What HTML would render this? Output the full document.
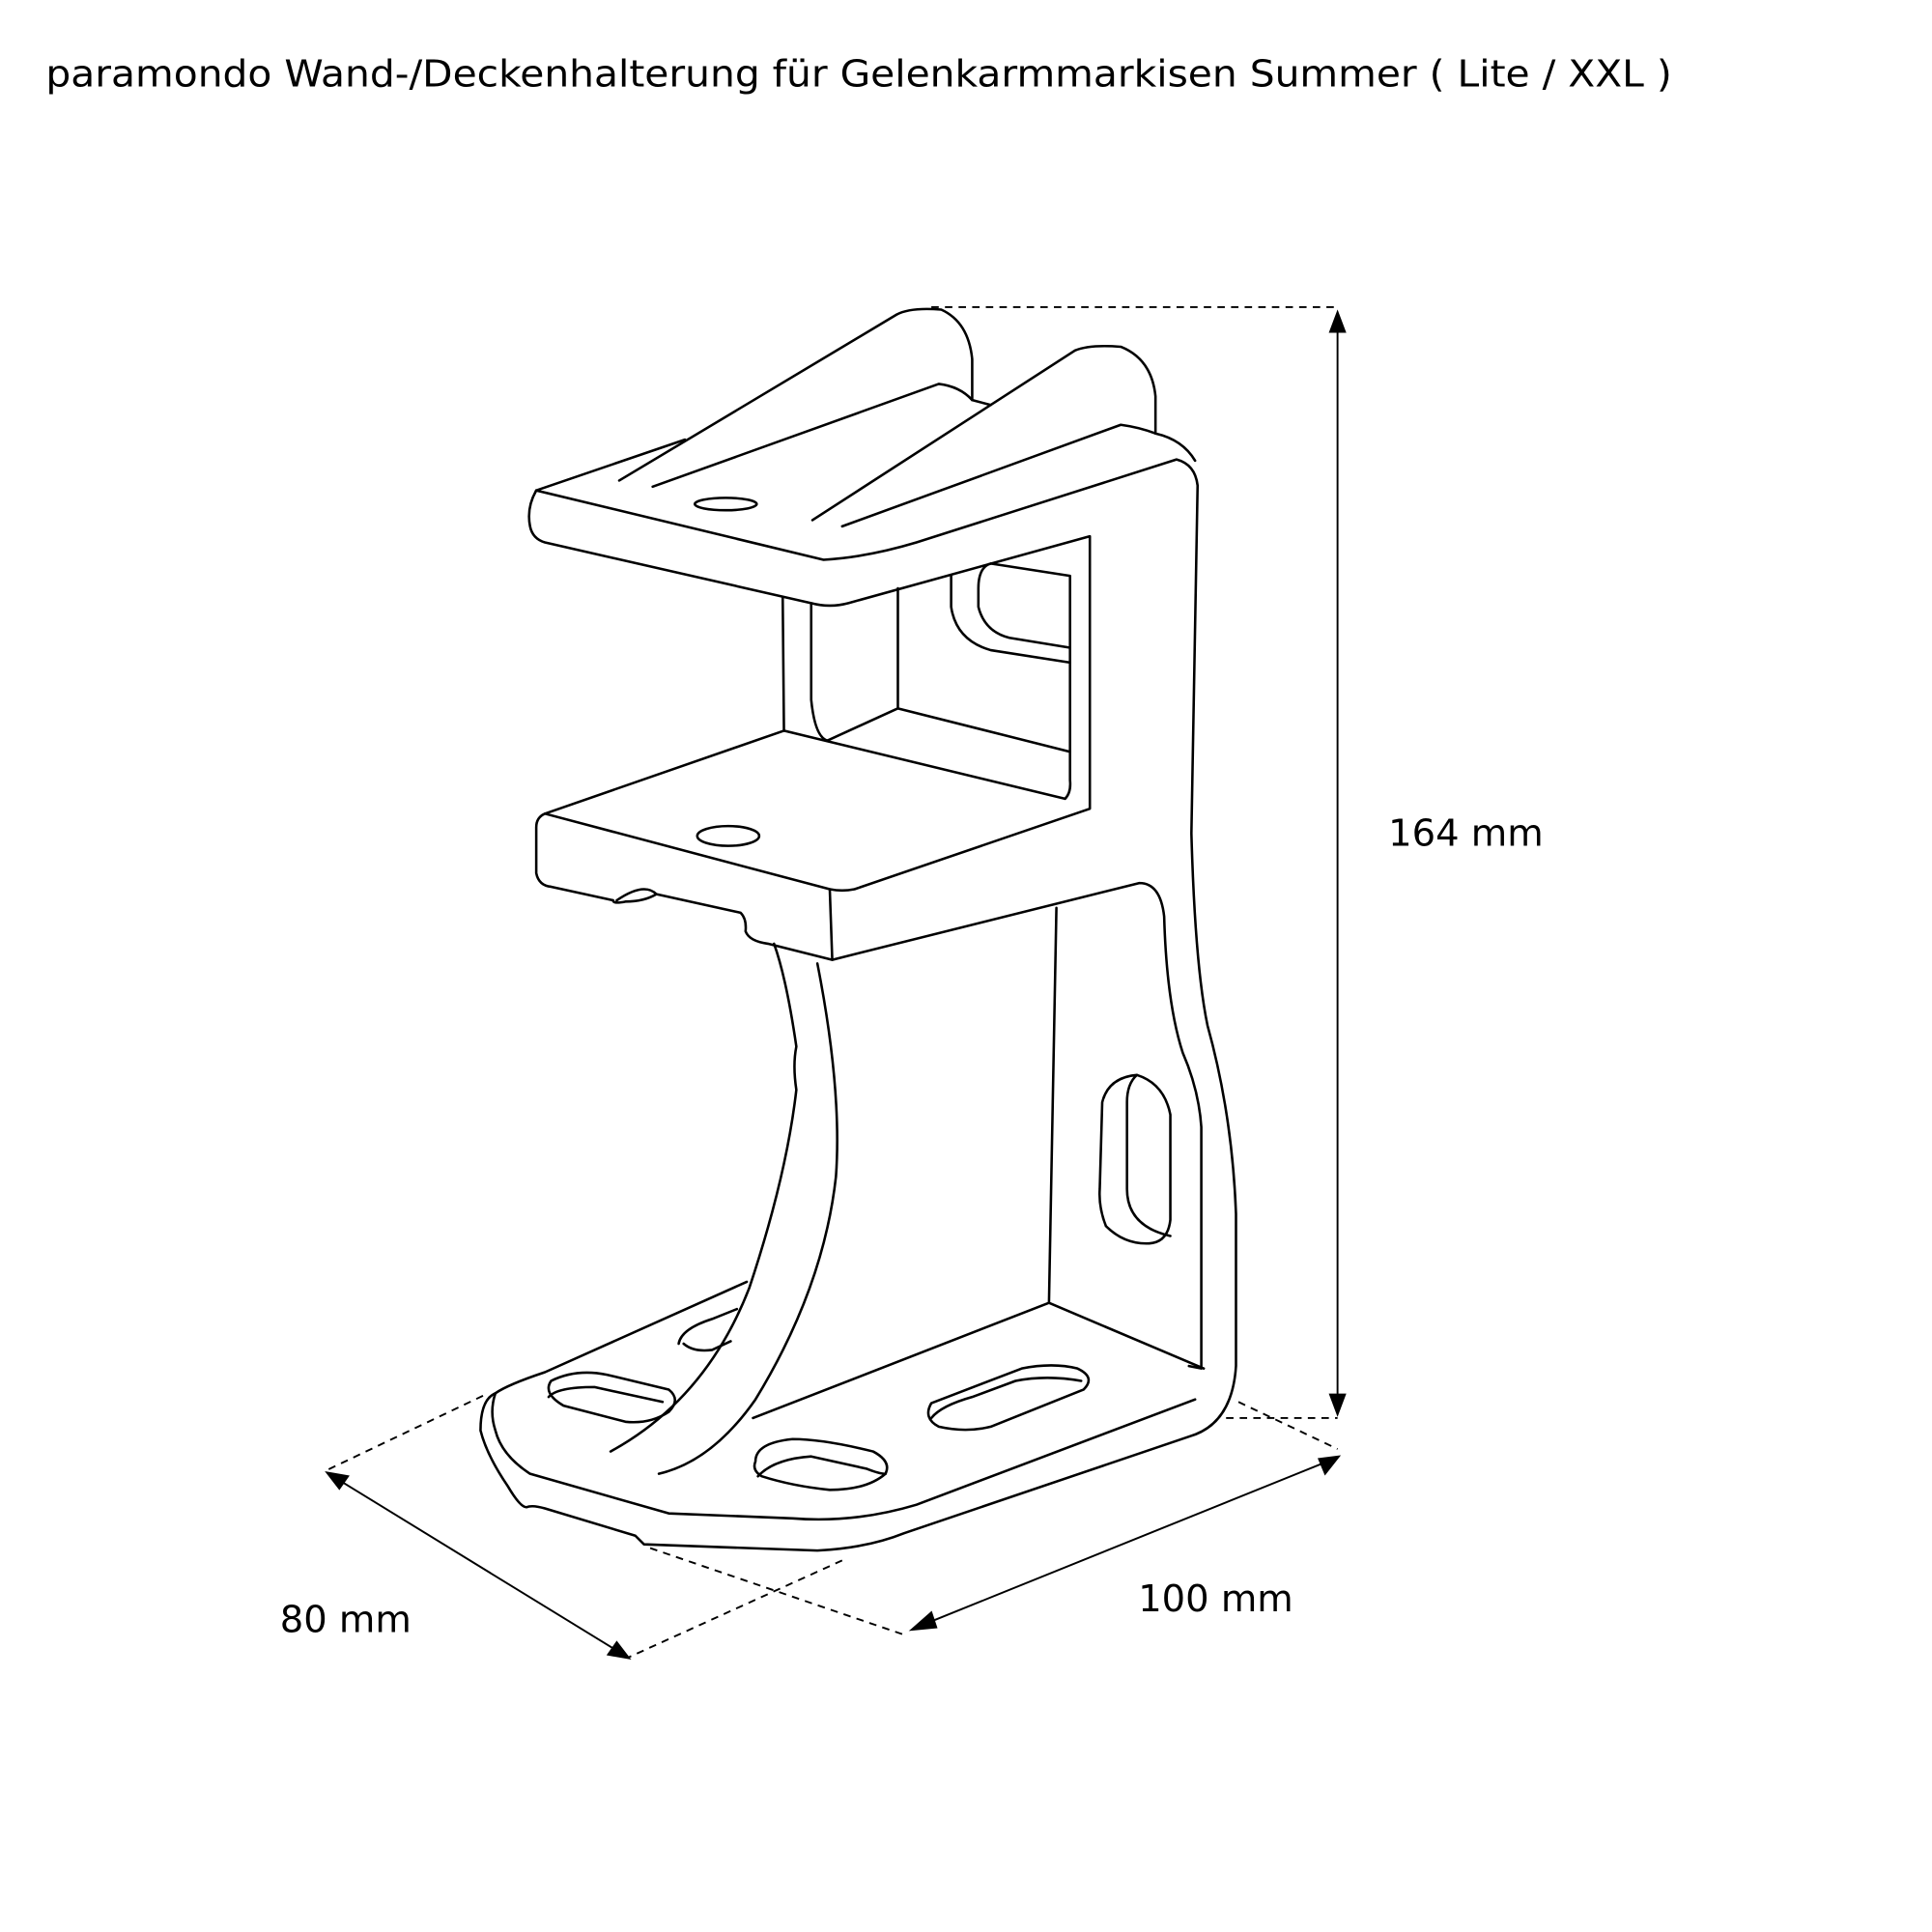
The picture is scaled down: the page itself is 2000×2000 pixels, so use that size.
<!DOCTYPE html>
<html><head><meta charset="utf-8"><style>html,body{margin:0;padding:0;background:#fff}svg{display:block}</style></head>
<body>
<svg width="2000" height="2000" viewBox="0 0 1560 1560" xmlns="http://www.w3.org/2000/svg">
<g font-family="DejaVu Sans, sans-serif" fill="#000">
<text x="37" y="70" font-size="30" textLength="1313" lengthAdjust="spacingAndGlyphs">paramondo Wand-/Deckenhalterung für Gelenkarmmarkisen Summer ( Lite / XXL )</text>
<text x="1121" y="683" font-size="30">164 mm</text>
<text x="919" y="1301" font-size="30">100 mm</text>
<text x="226" y="1318" font-size="30">80 mm</text>
</g>
<g fill="none" stroke="#000" stroke-width="2" stroke-linejoin="round" stroke-linecap="round">
<!-- top plate -->
<path d="M433 396 L553 355 M433 396 Q425 410 428 425 Q430 435 440 438 L655 487 Q670 491 685 487 L880 433 L880 653 L690 718 Q680 720 670 718 L440 657 Q433 660 433 668 L433 705 Q435 715 445 716 L495 727"/>
<path d="M433 396 L665 452 Q700 450 740 438 L950 371 Q965 375 967 392 L962 673 Q965 780 975 828 Q995 900 998 980 L998 1103 Q995 1150 960 1160 L730 1238 Q700 1250 660 1252 L520 1247 L513 1240 L440 1218 Q430 1215 425 1217 Q420 1217 410 1200 Q393 1175 388 1155 Q388 1130 400 1125"/>
<path d="M500 388 L724 254 Q735 248 760 250 Q782 260 785 290 L785 323"/>
<path d="M527 393 L758 310 Q775 312 785 323 L800 327"/>
<path d="M656 420 L868 283 Q880 278 905 280 Q930 290 933 320 L933 350 Q955 355 965 372"/>
<path d="M680 425 L905 343 Q920 345 933 350"/>
<ellipse cx="586" cy="407" rx="25" ry="5"/>
<path d="M655 487 L655 565 Q658 595 668 598 L725 572 L725 475"/>
<path d="M632 482 L633 590"/>
<path d="M633 590 L440 657 M633 590 L860 645 Q865 640 864 630 L864 465 L800 455 Q790 458 790 475 L790 490 Q795 510 815 515 L864 523"/>
<path d="M725 572 L864 607 M768 465 L768 490 Q772 517 800 525 L864 535"/>
<ellipse cx="588" cy="675" rx="25" ry="8"/>
<path d="M670 718 L672 775 L920 713 Q937 713 940 740 Q942 810 955 850 Q968 880 970 910 L970 1105 L960 1103"/>
<path d="M495 727 Q495 730 505 728 Q520 728 530 722 L598 737 Q603 742 602 752 Q605 760 620 762 L672 775"/>
<path d="M498 727 Q520 712 530 722"/>
<path d="M625 762 Q635 790 643 845 Q640 860 643 880 Q635 950 605 1040 Q570 1130 493 1172"/>
<path d="M660 778 Q680 880 675 950 Q665 1040 610 1130 Q575 1180 532 1190"/>
<path d="M853 733 L847 1052 L972 1105 M847 1052 L608 1145"/>
<path d="M400 1125 Q410 1118 440 1108 L603 1035"/>
<path d="M400 1125 Q395 1140 400 1155 Q405 1175 428 1190 L540 1222 L640 1226 Q690 1230 740 1215 L965 1130"/>
<path d="M548 1085 Q550 1073 575 1065 L595 1057 M552 1085 Q560 1092 575 1090 L590 1083"/>
<path d="M445 1115 Q465 1105 490 1110 L540 1122 Q550 1130 540 1140 Q525 1150 505 1148 L455 1135 Q438 1125 445 1115 Z"/>
<path d="M443 1128 Q450 1120 480 1120 L535 1132"/>
<path d="M610 1180 Q610 1165 640 1162 Q665 1162 705 1172 Q720 1180 715 1190 Q700 1203 670 1203 Q640 1200 615 1192 Q607 1187 610 1180 Z"/>
<path d="M612 1192 Q625 1178 655 1176 L700 1186 Q710 1190 715 1190"/>
<path d="M752 1133 L825 1105 Q850 1100 870 1105 Q885 1112 875 1122 L800 1152 Q780 1157 758 1152 Q745 1145 752 1133 Z"/>
<path d="M752 1145 Q760 1135 785 1128 L820 1115 Q845 1110 873 1115"/>
<path d="M918 868 Q940 875 945 900 L945 985 Q943 1003 928 1004 Q908 1005 893 990 Q887 975 888 960 L890 890 Q895 870 918 868 Z"/>
<path d="M918 868 Q910 875 910 890 L910 960 Q910 990 945 998"/>
</g>
<g fill="none" stroke="#000" stroke-width="1.5" stroke-dasharray="6,5">
<path d="M752 248 L1080 248"/>
<path d="M990 1145 L1080 1145"/>
<path d="M1000 1132 L1080 1170"/>
<path d="M390 1127 L262 1188"/>
<path d="M525 1250 L730 1320"/>
<path d="M680 1260 L508 1338"/>
</g>
<g stroke="#000" stroke-width="1.5" fill="#000">
<line x1="1080" y1="262" x2="1080" y2="1132"/>
<polygon points="1080,252 1074,268 1086,268"/>
<polygon points="1080,1142 1074,1126 1086,1126"/>
<line x1="745" y1="1312" x2="1072" y2="1180"/>
<polygon points="736,1316 752,1302 756,1314"/>
<polygon points="1081,1176 1065,1178 1070,1190"/>
<line x1="272" y1="1194" x2="500" y2="1334"/>
<polygon points="264,1189 274,1202 281,1192"/>
<polygon points="508,1339 498,1326 491,1336"/>
</g>
</svg>
</body></html>
